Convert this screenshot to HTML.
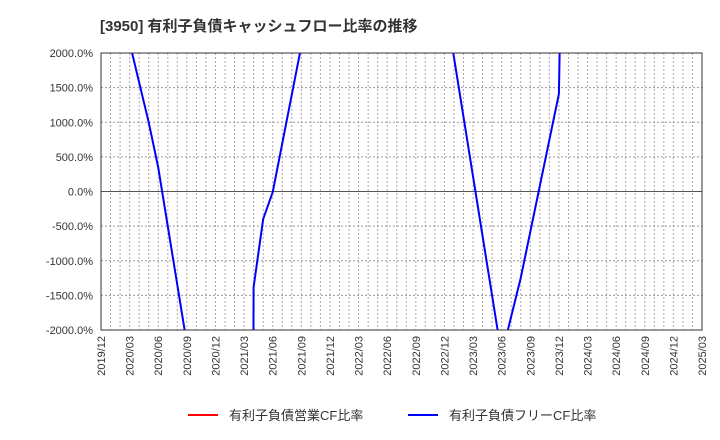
<!DOCTYPE html>
<html><head><meta charset="utf-8"><style>
html,body{margin:0;background:#fff;width:720px;height:440px;overflow:hidden;}
svg{display:block;font-family:"Liberation Sans","Noto Sans CJK JP",sans-serif;}
</style></head><body>
<svg id="c" width="720" height="440">
<text x="100" y="31" font-size="15" font-weight="bold" fill="#333">[3950]  有利子負債キャッシュフロー比率の推移</text>
<defs><clipPath id="clip"><rect x="101" y="53" width="601" height="277"/></clipPath></defs>
<g id="grid"></g>
<g id="series" clip-path="url(#clip)"></g>
<rect x="101" y="53" width="601" height="277" fill="none" stroke="#333" stroke-width="1"/>
<g id="axes"></g>
<g>
<line x1="188" y1="415" x2="218" y2="415" stroke="#ff0000" stroke-width="2"/>
<text x="229" y="420" font-size="13" fill="#333">有利子負債営業CF比率</text>
<line x1="408" y1="415" x2="438" y2="415" stroke="#0000ff" stroke-width="2"/>
<text x="449" y="420" font-size="13" fill="#333">有利子負債フリーCF比率</text>
</g>
</svg>
<script>
const xTickLabels=["2019/12","2020/03","2020/06","2020/09","2020/12","2021/03","2021/06","2021/09","2021/12","2022/03","2022/06","2022/09","2022/12","2023/03","2023/06","2023/09","2023/12","2024/03","2024/06","2024/09","2024/12","2025/03"];
const yTicks=[2000,1500,1000,500,0,-500,-1000,-1500,-2000];
const freeDates=["2020/03","2020/05","2020/06","2020/09",null,"2021/03","2021/04","2021/05","2021/06","2021/09",null,"2022/12","2023/06",null,"2023/06","2023/08","2023/12","2024/01"];
const freeValues=[2150,1000,350,-2200,null,-50000,-1380,-395,-10,2100,null,2800,-2370,null,-2360,-1250,1410,9000];
const opDates=[];
const opValues=[];

const X0=101,X1=702,Y0=53,Y1=330,YMIN=-2000,YMAX=2000;
const startM=2019*12+12;
function mIdx(s){const p=s.split('/');return (+p[0])*12+(+p[1])-startM;}
const totalM=mIdx("2025/03");
function xs(s){return X0+mIdx(s)*(X1-X0)/totalM;}
function ys(v){return Y0+(YMAX-v)*(Y1-Y0)/(YMAX-YMIN);}
const NS="http://www.w3.org/2000/svg";
function mk(t,a,p){const e=document.createElementNS(NS,t);for(const k in a)e.setAttribute(k,a[k]);p.appendChild(e);return e;}
const grid=document.getElementById('grid'),axes=document.getElementById('axes'),ser=document.getElementById('series');
for(let m=1;m<totalM;m++){const x=X0+m*(X1-X0)/totalM;
const l=mk('line',{x1:x,y1:Y0,x2:x,y2:Y1,stroke:'#aaa','stroke-width':1,'stroke-dasharray':'2,2'},grid);

}
yTicks.forEach(v=>{const y=ys(v);
const l=mk('line',{x1:X0,y1:y,x2:X1,y2:y,stroke:v===0?'#555':'#999','stroke-width':1,'stroke-dasharray':v===0?'':'2,2'},grid);


const t=mk('text',{x:93,y:y+4,'font-size':11,'text-anchor':'end',fill:'#333'},axes);
t.textContent=v.toFixed(1)+'%';

});
xTickLabels.forEach(s=>{const x=xs(s);
const t=mk('text',{x:0,y:0,'font-size':11,'text-anchor':'end',fill:'#333',transform:'translate('+(x+4)+',336) rotate(-90)'},axes);
t.textContent=s;

});
function draw(dates,vals,color,name){let d='',pen=false;
for(let i=0;i<dates.length;i++){if(dates[i]===null||vals[i]===null){pen=false;continue;}
d+=(pen?'L':'M')+xs(dates[i]).toFixed(1)+','+ys(vals[i]).toFixed(1);pen=true;}
if(!d)return;
const p=mk('path',{d:d,fill:'none',stroke:color,'stroke-width':2,'stroke-linejoin':'round'},ser);

}
draw(opDates,opValues,'#ff0000','operating-cf-ratio-line');
draw(freeDates,freeValues,'#0000ff','free-cf-ratio-line');
</script>
</body></html>
